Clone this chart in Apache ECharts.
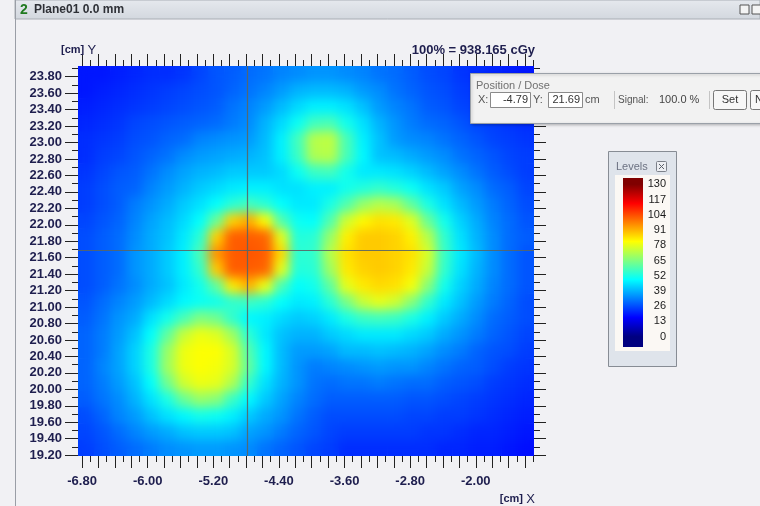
<!DOCTYPE html>
<html>
<head>
<meta charset="utf-8">
<script src="https://cdn.jsdelivr.net/npm/echarts@6/dist/echarts.min.js"></script>
<style>
html,body{margin:0;padding:0;background:#f1f1f4;}
#wrap{position:relative;width:760px;height:506px;overflow:hidden;}
.heat{position:absolute;left:78px;top:66px;width:456px;height:390px;}
#hs{filter:url(#smooth);}
#c{position:absolute;left:0;top:0;width:760px;height:506px;}
</style>
</head>
<body>
<svg width="0" height="0" style="position:absolute">
  <filter id="smooth" x="0" y="0" width="100%" height="100%" color-interpolation-filters="sRGB">
    <feGaussianBlur stdDeviation="5.5" edgeMode="duplicate"/>
  </filter>
</svg>
<div id="wrap">
  <div id="hb" class="heat"></div>
  <div id="hs" class="heat"></div>
  <div id="c"></div>
</div>
<script>
// ---------- data ----------
const xCenters = [-6.75,-6.55,-6.35,-6.15,-5.95,-5.75,-5.55,-5.35,-5.15,-4.95,-4.75,-4.55,-4.35,-4.15,-3.95,-3.75,-3.55,-3.35,-3.15,-2.95,-2.75,-2.55,-2.35,-2.15,-1.95,-1.75,-1.55,-1.35];
const yCenters = [19.29,19.49,19.69,19.88,20.08,20.28,20.48,20.67,20.87,21.07,21.27,21.46,21.66,21.86,22.06,22.25,22.45,22.65,22.85,23.04,23.24,23.44,23.64,23.83];
// dose in % (rows from bottom y=19.29 to top y=23.83)
const doseGrid = [
 [24,26,28,30,32,34,35,36,36,35,34,31,29,27,25,24,22,22,22,22,22,22,21,21,20,20,19,18],
 [25,27,30,33,36,38,41,42,42,41,37,35,32,29,27,25,24,24,24,24,24,23,23,22,21,21,20,19],
 [26,29,33,36,41,45,48,51,50,47,42,38,35,31,28,26,26,26,26,26,25,25,24,24,23,22,21,20],
 [28,31,34,39,45,52,62,68,66,56,48,42,37,33,30,28,28,28,28,28,27,27,26,25,24,23,22,21],
 [29,32,36,41,49,63,75,79,78,71,55,45,39,35,31,30,31,31,32,31,30,30,28,27,26,24,23,22],
 [29,33,37,43,52,69,79,81,80,76,61,48,40,35,32,33,34,35,36,35,35,33,31,29,28,26,24,23],
 [29,32,37,43,52,68,79,81,81,76,59,48,40,36,36,37,40,40,41,40,39,37,34,32,29,27,26,24],
 [29,32,36,41,49,61,74,79,77,69,54,46,41,39,39,42,44,46,46,46,44,42,38,35,32,29,27,25],
 [28,31,35,38,45,51,58,65,63,55,48,47,44,42,43,46,52,56,57,56,52,47,42,38,34,30,28,26],
 [27,30,33,36,40,44,48,50,51,55,56,54,49,46,47,54,64,74,78,75,66,55,46,41,36,32,29,26],
 [26,28,31,34,38,41,46,51,61,84,91,79,58,49,51,61,78,84,86,85,80,66,51,43,38,33,30,27],
 [26,28,30,35,38,42,47,55,88,102,102,101,78,53,54,69,84,87,88,87,84,74,55,45,39,34,30,27],
 [26,28,30,35,38,42,47,58,95,102,103,102,86,54,55,72,85,88,88,87,85,76,56,46,40,34,30,27],
 [26,28,30,34,38,41,46,54,87,102,102,101,78,53,54,68,83,88,88,87,83,72,55,45,39,34,30,28],
 [25,27,29,33,37,40,44,49,62,87,92,81,59,50,49,59,75,82,85,84,77,62,51,43,38,33,30,27],
 [24,26,28,32,35,38,42,45,49,54,57,54,49,46,46,52,59,68,72,70,61,52,45,40,36,32,29,26],
 [24,26,28,29,33,36,39,42,44,46,47,47,45,45,47,47,51,53,55,53,50,45,42,37,34,30,28,25],
 [23,25,27,28,31,34,37,39,40,42,42,42,44,50,56,57,51,46,46,45,43,40,37,34,31,28,26,24],
 [22,24,25,27,29,31,34,36,37,38,39,41,47,56,71,72,58,48,41,40,38,36,34,31,29,27,25,24],
 [22,23,24,26,27,29,30,33,34,35,36,40,47,57,72,73,58,47,41,36,34,33,31,29,27,25,24,23],
 [21,22,23,25,26,27,28,29,30,32,34,39,44,50,57,58,51,45,39,35,32,30,29,27,25,24,23,22],
 [20,21,22,23,24,25,26,27,28,31,33,36,40,44,47,47,45,41,36,33,31,28,27,25,24,23,22,21],
 [19,20,21,22,23,24,25,26,27,29,31,33,36,39,40,40,39,36,34,31,29,27,26,24,23,22,21,20],
 [19,19,20,21,22,22,23,25,27,28,30,31,33,34,35,35,34,33,31,30,28,26,25,23,22,21,20,19]
];
const xRange = [-6.85, -1.29];
const yRange = [19.19, 23.93];
const xLabelValues = [-6.8, -6.0, -5.2, -4.4, -3.6, -2.8, -2.0];
const yLabelValues = [19.2,19.4,19.6,19.8,20.0,20.2,20.4,20.6,20.8,21.0,21.2,21.4,21.6,21.8,22.0,22.2,22.4,22.6,22.8,23.0,23.2,23.4,23.6,23.8];
const cursorPos = [-4.79, 21.69];
const levelLabels = ['130','117','104','91','78','65','52','39','26','13','0'];
const levelRange = [0, 130];
const jetColors = ['#000080','#0000ff','#0080ff','#00ffff','#80ff80','#ffff00','#ff8000','#ff0000','#800000'];
const titleText = 'Plane01 0.0 mm';
const normText = '100% = 938.165 cGy';

// ---------- derived ticks ----------
const xMajor = [], xMinor = [], yMinor = [];
for (let k = -68; k <= -13; k++) { xMinor.push(+(k / 10).toFixed(2)); if (k % 2 === 0 && k <= -14) xMajor.push(+(k / 10).toFixed(2)); }
for (let k = 192; k <= 239; k++) yMinor.push(+(k / 10).toFixed(2));
const yMajor = yLabelValues.slice();

const heatData = [];
doseGrid.forEach((row, j) => row.forEach((v, i) => heatData.push([i, j, v])));

// ---------- heat layers (base + smoothed display copy) ----------
function heatOption() {
  return {
    animation: false,
    grid: {left: 0, right: 0, top: 0, bottom: 0, outerBoundsMode: 'none', containLabel: false},
    xAxis: {type: 'category', data: xCenters, show: false, boundaryGap: true},
    yAxis: {type: 'category', data: yCenters, show: false, boundaryGap: true},
    visualMap: {type: 'continuous', show: false, min: levelRange[0], max: levelRange[1], inRange: {color: jetColors}},
    series: [{type: 'heatmap', data: heatData, progressive: 0, silent: true,
      itemStyle: {borderWidth: 0}, emphasis: {disabled: true}}]
  };
}
['hb', 'hs'].forEach(id => {
  const ch = echarts.init(document.getElementById(id), null, {renderer: 'canvas', width: 456, height: 390});
  ch.setOption(heatOption());
});

// ---------- layout ----------
const G = {left: 78, top: 66, width: 456, height: 390};
const labelStyle = {color: '#1e1e4e', fontFamily: 'Liberation Sans', fontWeight: 'bold', fontSize: 13};
const tickStyle = {color: '#222', width: 1};

function valAxis(dim, pos, ticks, len, labels) {
  const range = dim === 'x' ? xRange : yRange;
  return {
    type: 'value', gridIndex: 0, position: pos, min: range[0], max: range[1],
    axisLine: {show: false, onZero: false},
    splitLine: {show: false},
    axisTick: {show: true, length: len, lineStyle: tickStyle, customValues: ticks},
    axisLabel: labels ? Object.assign({show: true, customValues: labels, formatter: v => v.toFixed(2),
      margin: dim === 'x' ? 19 : 16}, labelStyle) : {show: false},
    silent: true
  };
}

// legend bar gradient (bar spans values 135.4 .. -8.8)
const barTop = 178, barH = 169, barHi = 135.4, barLo = -8.8;
const stops = [];
stops.push({offset: 0, color: jetColors[jetColors.length - 1]});
jetColors.forEach((c, i) => {
  const v = levelRange[0] + (levelRange[1] - levelRange[0]) * i / (jetColors.length - 1);
  stops.push({offset: (barHi - v) / (barHi - barLo), color: c});
});
stops.push({offset: 1, color: jetColors[0]});
stops.sort((a, b) => a.offset - b.offset);

const levelTexts = levelLabels.map((t, i) => ({
  type: 'text', x: 666, y: 184.3 + i * 15.24,
  style: {text: t, fill: '#1a1a1a', font: '11px "Liberation Sans"', align: 'right', verticalAlign: 'middle'}, z: 20
}));

const graphics = [
  // title bar
  {type: 'rect', shape: {x: 15, y: 0, width: 745, height: 19},
   style: {fill: new echarts.graphic.LinearGradient(0, 0, 0, 1, [{offset: 0, color: '#e6e9ee'}, {offset: 1, color: '#d2d7de'}]), stroke: '#a9aeb5', lineWidth: 1}, z: 1},
  {type: 'line', shape: {x1: 15.5, y1: 0, x2: 15.5, y2: 506}, style: {stroke: '#9a9ea6', lineWidth: 1}, z: 1},
  {type: 'text', x: 20, y: 10, style: {text: '2', fill: '#1f7a1f', font: 'bold 14px "Liberation Sans"', verticalAlign: 'middle'}, z: 2},
  {type: 'text', x: 34, y: 10, style: {text: titleText, fill: '#2e3036', font: 'bold 12px "Liberation Sans"', verticalAlign: 'middle'}, z: 2},
  {type: 'rect', shape: {x: 740, y: 5, width: 9, height: 9}, style: {fill: '#f4f4f4', stroke: '#555', lineWidth: 1}, z: 2},
  {type: 'rect', shape: {x: 752, y: 5, width: 9, height: 9}, style: {fill: '#f4f4f4', stroke: '#555', lineWidth: 1}, z: 2},
  // axis names
  {type: 'text', x: 61, y: 50, style: {rich: {a: {font: 'bold 11px "Liberation Sans"', fill: '#1e1e4e'}, b: {font: '13px "Liberation Sans"', fill: '#1e1e4e'}}, text: '{a|[cm]} {b|Y}', verticalAlign: 'middle'}, z: 2},
  {type: 'text', x: 535, y: 499, style: {rich: {a: {font: 'bold 11px "Liberation Sans"', fill: '#1e1e4e'}, b: {font: '13px "Liberation Sans"', fill: '#1e1e4e'}}, text: '{a|[cm]} {b|X}', align: 'right', verticalAlign: 'middle'}, z: 2},
  {type: 'text', x: 535, y: 50, style: {text: normText, fill: '#1e1e4e', font: 'bold 13px "Liberation Sans"', align: 'right', verticalAlign: 'middle'}, z: 2},
  // Position / Dose panel
  {type: 'rect', shape: {x: 470.5, y: 73.5, width: 300, height: 50}, style: {fill: '#f2f2f2', stroke: '#9aa0a8', lineWidth: 1, shadowBlur: 3, shadowColor: 'rgba(0,0,0,0.25)', shadowOffsetX: 1, shadowOffsetY: 1}, z: 30},
  {type: 'text', x: 476, y: 86, style: {text: 'Position / Dose', fill: '#707070', font: '11px "Liberation Sans"', verticalAlign: 'middle'}, z: 31},
  {type: 'text', x: 478, y: 100, style: {text: 'X:', fill: '#555', font: '11px "Liberation Sans"', verticalAlign: 'middle'}, z: 31},
  {type: 'rect', shape: {x: 490.5, y: 92.5, width: 40, height: 15}, style: {fill: '#fff', stroke: '#8a8a8a', lineWidth: 1}, z: 31},
  {type: 'text', x: 528, y: 100, style: {text: '-4.79', fill: '#333', font: '11px "Liberation Sans"', align: 'right', verticalAlign: 'middle'}, z: 32},
  {type: 'text', x: 533, y: 100, style: {text: 'Y:', fill: '#555', font: '11px "Liberation Sans"', verticalAlign: 'middle'}, z: 31},
  {type: 'rect', shape: {x: 548.5, y: 92.5, width: 34, height: 15}, style: {fill: '#fff', stroke: '#8a8a8a', lineWidth: 1}, z: 31},
  {type: 'text', x: 580, y: 100, style: {text: '21.69', fill: '#333', font: '11px "Liberation Sans"', align: 'right', verticalAlign: 'middle'}, z: 32},
  {type: 'text', x: 585, y: 100, style: {text: 'cm', fill: '#555', font: '11px "Liberation Sans"', verticalAlign: 'middle'}, z: 31},
  {type: 'line', shape: {x1: 614.5, y1: 91, x2: 614.5, y2: 109}, style: {stroke: '#c4c4c4', lineWidth: 1}, z: 31},
  {type: 'text', x: 618, y: 100, style: {text: 'Signal:', fill: '#555', font: '10px "Liberation Sans"', verticalAlign: 'middle'}, z: 31},
  {type: 'text', x: 659, y: 100, style: {text: '100.0 %', fill: '#444', font: '11px "Liberation Sans"', verticalAlign: 'middle'}, z: 31},
  {type: 'line', shape: {x1: 709.5, y1: 91, x2: 709.5, y2: 109}, style: {stroke: '#c4c4c4', lineWidth: 1}, z: 31},
  {type: 'rect', shape: {x: 713.5, y: 90.5, width: 33, height: 19, r: 2}, style: {fill: '#f7f7f7', stroke: '#777', lineWidth: 1}, z: 31},
  {type: 'text', x: 730, y: 100, style: {text: 'Set', fill: '#333', font: '11px "Liberation Sans"', align: 'center', verticalAlign: 'middle'}, z: 32},
  {type: 'rect', shape: {x: 750.5, y: 90.5, width: 30, height: 19, r: 2}, style: {fill: '#f7f7f7', stroke: '#777', lineWidth: 1}, z: 31},
  {type: 'text', x: 755, y: 100, style: {text: 'N', fill: '#333', font: '11px "Liberation Sans"', verticalAlign: 'middle'}, z: 32},
  // Levels panel
  {type: 'rect', shape: {x: 608.5, y: 151.5, width: 68, height: 215}, style: {fill: '#dfe4eb', stroke: '#878c94', lineWidth: 1}, z: 10},
  {type: 'text', x: 616, y: 167, style: {text: 'Levels', fill: '#6c7282', font: '11px "Liberation Sans"', verticalAlign: 'middle'}, z: 11},
  {type: 'rect', shape: {x: 656.5, y: 161.5, width: 10, height: 10, r: 1}, style: {fill: '#eceef2', stroke: '#7c818a', lineWidth: 1}, z: 11},
  {type: 'line', shape: {x1: 659, y1: 164, x2: 664, y2: 169}, style: {stroke: '#5c616a', lineWidth: 1}, z: 12},
  {type: 'line', shape: {x1: 664, y1: 164, x2: 659, y2: 169}, style: {stroke: '#5c616a', lineWidth: 1}, z: 12},
  {type: 'rect', shape: {x: 615, y: 175, width: 55, height: 176}, style: {fill: '#fbf8f4'}, z: 11},
  {type: 'rect', shape: {x: 623, y: barTop, width: 20, height: barH}, style: {fill: new echarts.graphic.LinearGradient(0, 0, 0, 1, stops)}, z: 12}
].concat(levelTexts);

const option = {
  animation: false,
  backgroundColor: 'transparent',
  grid: Object.assign({outerBoundsMode: 'none', containLabel: false}, G),
  xAxis: [
    valAxis('x', 'bottom', xMajor, 12, xLabelValues),
    valAxis('x', 'bottom', xMinor, 6, null),
    valAxis('x', 'top', xMajor, 12, null),
    valAxis('x', 'top', xMinor, 6, null)
  ],
  yAxis: [
    valAxis('y', 'left', yMajor, 13, yLabelValues),
    valAxis('y', 'left', yMinor, 6, null),
    valAxis('y', 'right', yMajor, 12, null),
    valAxis('y', 'right', yMinor, 6, null)
  ],
  graphic: graphics,
  series: [
    {type: 'scatter', xAxisIndex: 0, yAxisIndex: 0, data: [cursorPos], symbolSize: 0, silent: true, z: 5,
     markLine: {silent: true, symbol: ['none', 'none'], label: {show: false}, animation: false,
       lineStyle: {color: '#5a6666', width: 1.2, type: 'solid', opacity: 0.9},
       data: [{xAxis: cursorPos[0]}, {yAxis: cursorPos[1]}]}}
  ]
};

const chart = echarts.init(document.getElementById('c'), null, {renderer: 'canvas', width: 760, height: 506});
chart.setOption(option);
</script>
</body>
</html>
